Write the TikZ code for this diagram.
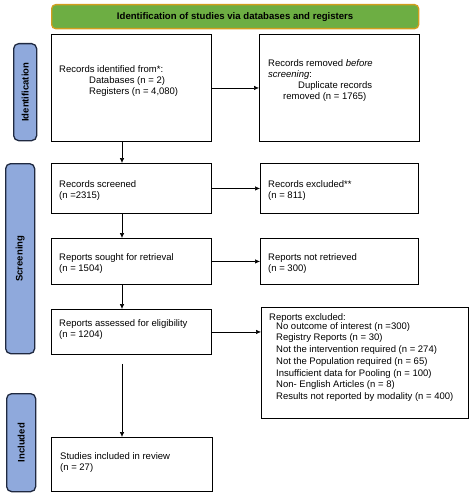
\documentclass[tikz,border=0pt]{standalone}
\usepackage{fontspec}
\setmainfont{Liberation Sans}
\usetikzlibrary{arrows.meta}
\definecolor{sideblue}{HTML}{8FA9DC}
\definecolor{sideedge}{HTML}{1F2940}
\definecolor{bannergreen}{HTML}{6DAE43}
\definecolor{banneredge}{HTML}{D29E1E}
\begin{document}
\begin{tikzpicture}[x=1pt,y=-1pt,
  box/.style={draw=black, line width=0.9pt, rectangle, inner sep=0pt, anchor=north west},
  side/.style={draw=sideedge, fill=sideblue, line width=1.3pt, rounded corners=5pt, inner sep=0pt, anchor=north west},
  banner/.style={draw=banneredge, fill=bannergreen, line width=1.3pt, rounded corners=4pt, inner sep=0pt, anchor=north west, font=\fontsize{9.6}{11}\bfseries\selectfont},
  txt/.style={anchor=north west, inner sep=0pt, align=left, font=\fontsize{9.5}{11.2}\selectfont, execute at begin node={\rule{0pt}{8pt}}},
  sidetxt/.style={rotate=90, inner sep=0pt, font=\fontsize{9.5}{11}\bfseries\selectfont},
  arr/.style={-{Latex[length=5pt,width=4.5pt]}, line width=0.6pt}]
\useasboundingbox (0,0) rectangle (475,503);

% banner
\node[banner, minimum width=367pt, minimum height=24pt] (banner) at (51,4) {Identification of studies via databases and registers};

% side boxes
\node[side, minimum width=23pt, minimum height=97pt] (sideI) at (13,43) {};
\node[side, minimum width=29pt, minimum height=190pt] (sideS) at (5,163) {};
\node[side, minimum width=29pt, minimum height=98pt] (sideN) at (6,393) {};
\node[sidetxt] (lblI) at (sideI.center) {Identification};
\node[sidetxt] (lblS) at (sideS.center) {Screening};
\node[sidetxt] (lblN) at (sideN.center) {Included};

% boxes
\node[box, minimum width=160pt, minimum height=107pt] (ident) at (51,34) {};
\node[box, minimum width=160pt, minimum height=107pt] (removed) at (259,34) {};
\node[box, minimum width=160pt, minimum height=50pt] (screened) at (51,163) {};
\node[box, minimum width=158pt, minimum height=50pt] (excl) at (260,163) {};
\node[box, minimum width=160pt, minimum height=46pt] (sought) at (51,238) {};
\node[box, minimum width=158pt, minimum height=46pt] (notret) at (260,238) {};
\node[box, minimum width=160pt, minimum height=45pt] (assessed) at (51,309) {};
\node[box, minimum width=207pt, minimum height=111pt] (rexcl) at (261,307) {};
\node[box, minimum width=161pt, minimum height=54pt] (included) at (51,437) {};

% texts
\node[txt] (tident) at (59,65) {Records identified from*:\\ \hspace*{30pt}Databases (n = 2)\\ \hspace*{30pt}Registers (n = 4,080)};
\node[txt] (tremoved) at (268,59) {Records removed \textit{before}\\ \textit{screening}:\\ \hspace*{30pt}Duplicate records\\ \hspace*{15pt}removed (n = 1765)};
\node[txt] (tscreened) at (59,180) {Records screened\\ (n =2315)};
\node[txt] (texcl) at (268,180) {Records excluded**\\ (n = 811)};
\node[txt] (tsought) at (59,253) {Reports sought for retrieval\\ (n = 1504)};
\node[txt] (tnotret) at (268,253) {Reports not retrieved\\ (n = 300)};
\node[txt] (tassessed) at (59,319) {Reports assessed for eligibility\\ (n = 1204)};
\node[txt, font=\fontsize{9.5}{11.7}\selectfont] (trexcl) at (269,313) {Reports excluded:\\[-2.5pt]
 \hspace*{7pt}No outcome of interest (n =300)\\
 \hspace*{7pt}Registry Reports (n = 30)\\
 \hspace*{7pt}Not the intervention required (n = 274)\\
 \hspace*{7pt}Not the Population required (n = 65)\\
 \hspace*{7pt}Insufficient data for Pooling (n = 100)\\
 \hspace*{7pt}Non- English Articles (n = 8)\\
 \hspace*{7pt}Results not reported by modality (n = 400)};
\node[txt] (tincluded) at (60,452) {Studies included in review\\ (n = 27)};

% arrows
\draw[arr] (ident.east) -- (ident.east -| removed.west);
\draw[arr] ([xshift=71pt]ident.south west) -- ([xshift=71pt]screened.north west);
\draw[arr] (screened.east) -- (screened.east -| excl.west);
\draw[arr] ([xshift=71pt]screened.south west) -- ([xshift=71pt]sought.north west);
\draw[arr] (sought.east) -- (sought.east -| notret.west);
\draw[arr] ([xshift=71pt]sought.south west) -- ([xshift=71pt]assessed.north west);
\draw[arr] (assessed.east) -- (assessed.east -| rexcl.west);
\draw[arr] ([xshift=71pt,yshift=-9pt]assessed.south west) -- ([xshift=71pt]included.north west);
\end{tikzpicture}
\end{document}
